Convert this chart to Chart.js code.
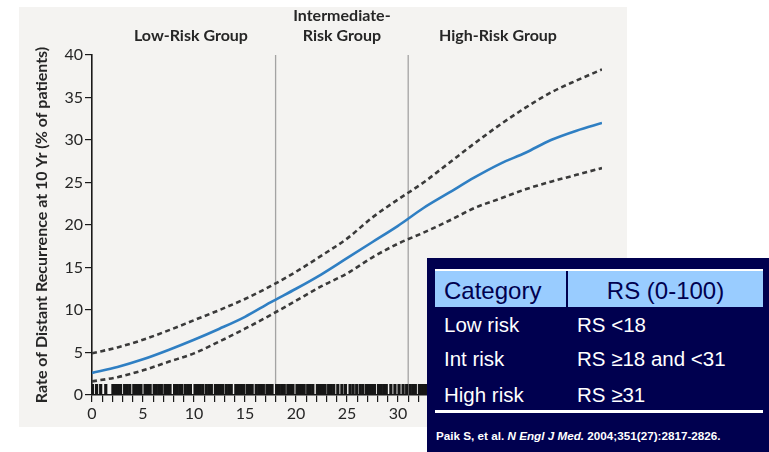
<!DOCTYPE html>
<html>
<head>
<meta charset="utf-8">
<title>Distant recurrence by Recurrence Score</title>
<script src="https://cdn.jsdelivr.net/npm/chart.js@4.4.1/dist/chart.umd.min.js"></script>
<style>
  html, body { margin: 0; padding: 0; background: #ffffff; }
  #wrap { position: relative; width: 769px; height: 452px; overflow: hidden; }
  #chart { position: absolute; left: 0; top: 0; }
  #rsTable {
    position: absolute; left: 427px; top: 258px; width: 342px; height: 194px;
    background: #00004f; color: #ffffff;
    font-family: "Liberation Sans", Arial, sans-serif;
  }
  #rsTable .hdr {
    position: absolute; left: 8px; top: 11px; width: 328px; height: 36px;
    background: #99ccff; border-top: 2px solid #ffffff;
  }
  #rsTable .sep { position: absolute; left: 131px; top: 0; width: 2px; height: 36px; background: #00004f; }
  #rsTable .t { position: absolute; line-height: 1; white-space: nowrap; }
  #rsTable .h { font-size: 24px; color: #00004f; top: 8px; }
  #rsTable .b { font-size: 20.5px; }
  #rsTable .rule { position: absolute; left: 8px; top: 152px; width: 328px; height: 3px; background: #ffffff; }
  #rsTable .cite { position: absolute; left: 9px; top: 172px; font-size: 11.7px; font-weight: bold; line-height: 1; white-space: nowrap; }
</style>
</head>
<body>
<div id="wrap">
  <canvas id="chart" width="769" height="452"></canvas>
  <div id="rsTable">
    <div class="hdr">
      <div class="t h" style="left:9px;">Category</div>
      <div class="sep"></div>
      <div class="t h" style="left:133px;width:195px;text-align:center;">RS (0-100)</div>
    </div>
    <div class="t b" style="left:17px;top:57px;">Low risk</div>
    <div class="t b" style="left:150px;top:57px;">RS &lt;18</div>
    <div class="t b" style="left:17px;top:91px;">Int risk</div>
    <div class="t b" style="left:150px;top:91px;">RS ≥18 and &lt;31</div>
    <div class="t b" style="left:17px;top:127px;">High risk</div>
    <div class="t b" style="left:150px;top:127px;">RS ≥31</div>
    <div class="rule"></div>
    <div class="cite">Paik S, et al. <i>N Engl J Med.</i> 2004;351(27):2817-2826.</div>
  </div>
</div>
<script>
// Recurrence Score (x) and 10-year distant recurrence rate, % (y)
const riskScore      = [0, 2.5, 5, 7.5, 10, 12.5, 15, 17.5, 20, 22.5, 25, 27.5, 30, 32.5, 35, 37.5, 40, 42.5, 45, 47.5, 50];
const recurrenceRate = [2.6, 3.3, 4.2, 5.3, 6.5, 7.8, 9.2, 10.9, 12.5, 14.2, 16.1, 18.0, 19.9, 22.0, 23.8, 25.6, 27.2, 28.5, 30.0, 31.1, 32.0];
const upperCI        = [4.9, 5.6, 6.5, 7.6, 8.8, 10.0, 11.3, 12.8, 14.5, 16.4, 18.4, 20.9, 23.0, 25.0, 27.3, 29.6, 31.8, 33.8, 35.6, 37.0, 38.3];
const lowerCI        = [1.6, 2.1, 2.9, 3.9, 4.9, 6.3, 7.8, 9.4, 11.1, 12.8, 14.3, 16.2, 17.8, 19.1, 20.5, 22.0, 23.1, 24.2, 25.1, 25.9, 26.7];

// Risk-group cut points on the Recurrence Score
const cutoffs = [18, 31];

// Individual patients' scores, shown as a rug along the x axis
const rugScores = [
  0.05, 0.45, 0.85, 1.35,
  2.05, 2.3, 2.55, 2.8, 3.2, 3.45, 3.7, 4.1, 4.35, 4.6, 4.8,
  5.2, 5.45, 5.7, 6.1, 6.3, 6.55, 6.8, 7.15, 7.4, 7.65, 8.1, 8.35, 8.6, 8.8,
  9.15, 9.4, 9.65, 10.1, 10.35, 10.6, 10.85, 11.2, 11.45, 11.7, 12.1, 12.35, 12.6, 12.8,
  13.15, 13.4, 13.65, 14.1, 14.35, 14.6, 14.85, 15.2, 15.45, 15.7, 16.1, 16.35, 16.6, 16.8,
  17.15, 17.4, 17.65, 18.1, 18.35, 18.6, 18.85, 19.2, 19.45, 19.7, 20.1, 20.35, 20.6, 20.8,
  21.15, 21.4, 21.65, 22.1, 22.35, 22.6, 22.85, 23.2, 23.45, 23.7,
  24.1, 24.5, 24.85, 25.3, 25.6, 25.95, 26.3, 26.55, 26.9, 27.2, 27.45, 27.7,
  28.1, 28.35, 28.6, 28.85, 29.3, 29.7, 30.1, 30.5, 30.85, 31.2, 31.45, 31.7,
  32.1, 32.35, 32.6, 32.85, 33.2, 33.45, 33.7,
  34.2, 34.5, 35.1, 35.4, 36.2, 36.5, 37.1, 37.6, 38.2, 38.9, 39.5, 40.3,
  41.2, 42.0, 43.1, 44.3, 45.6, 47.0, 48.4, 49.6
];

// Axis ranges and group headings
const xRange = [0, 50];
const yRange = [0, 40];
const xLabelStep = 5;
const yTickStep = 5;
const groupHeadings = [
  { lines: ['Low-Risk Group'], at: 9.7 },
  { lines: ['Intermediate-', 'Risk Group'], at: 24.5 },
  { lines: ['High-Risk Group'], at: 39.8 }
];
const yTitle = 'Rate of Distant Recurrence at 10 Yr (% of patients)';

const toPoints = (xs, ys) => xs.map((x, i) => ({ x: x, y: ys[i] }));

const textColor = '#262626';
const axisColor = '#1a1a1a';
const fontFamily = 'Lato, "Open Sans", sans-serif';

// Light panel behind the figure
const panelPlugin = {
  id: 'panel',
  beforeDraw(chart) {
    const ctx = chart.ctx;
    ctx.save();
    ctx.fillStyle = '#ffffff';
    ctx.fillRect(0, 0, chart.width, chart.height);
    ctx.fillStyle = '#f4f3f1';
    ctx.fillRect(19, 7, 608, 420);
    ctx.restore();
  }
};

// Group headings above the plot, placed over each score band
const headingPlugin = {
  id: 'groupHeadings',
  afterDraw(chart) {
    const ctx = chart.ctx;
    const xs = chart.scales.x;
    ctx.save();
    ctx.font = 'bold 16px ' + fontFamily;
    ctx.fillStyle = textColor;
    ctx.textAlign = 'center';
    ctx.textBaseline = 'alphabetic';
    groupHeadings.forEach(g => {
      const cx = xs.getPixelForValue(g.at);
      const n = g.lines.length;
      g.lines.forEach((line, i) => {
        ctx.fillText(line, cx, 41 - (n - 1 - i) * 20);
      });
    });
    ctx.restore();
  }
};

const datasets = [
  {
    label: 'Rate of distant recurrence',
    data: toPoints(riskScore, recurrenceRate),
    showLine: true,
    borderColor: '#2f7fc3',
    borderWidth: 2.6,
    pointRadius: 0,
    cubicInterpolationMode: 'monotone'
  },
  {
    label: '95% CI upper',
    data: toPoints(riskScore, upperCI),
    showLine: true,
    borderColor: '#3a3a3a',
    borderWidth: 2.6,
    borderDash: [5, 3.5],
    pointRadius: 0,
    cubicInterpolationMode: 'monotone'
  },
  {
    label: '95% CI lower',
    data: toPoints(riskScore, lowerCI),
    showLine: true,
    borderColor: '#3a3a3a',
    borderWidth: 2.6,
    borderDash: [5, 3.5],
    pointRadius: 0,
    cubicInterpolationMode: 'monotone'
  },
  {
    label: 'Patients',
    data: rugScores.map(s => ({ x: s, y: 0.65 })),
    showLine: false,
    pointStyle: 'line',
    pointRotation: 90,
    pointRadius: 5.5,
    pointBorderWidth: 3.2,
    pointBorderColor: '#161616',
    pointBackgroundColor: '#161616'
  }
].concat(cutoffs.map(c => ({
  label: 'Cut point ' + c,
  data: [{ x: c, y: yRange[0] }, { x: c, y: yRange[1] }],
  showLine: true,
  borderColor: '#a3a3a3',
  borderWidth: 1.3,
  pointRadius: 0
})));

new Chart(document.getElementById('chart'), {
  type: 'scatter',
  data: { datasets: datasets },
  options: {
    responsive: false,
    animation: false,
    events: [],
    layout: { padding: { left: 20, right: 167, top: 55, bottom: 27 } },
    plugins: { legend: { display: false }, tooltip: { enabled: false } },
    scales: {
      x: {
        type: 'linear',
        min: xRange[0],
        max: xRange[1],
        afterFit(scale) { scale.height = 30; },
        grid: { display: true, drawOnChartArea: false, drawTicks: true, tickLength: 7, color: axisColor, lineWidth: 1.2 },
        border: { display: true, color: axisColor, width: 1.6 },
        ticks: {
          stepSize: 1,
          autoSkip: false,
          maxRotation: 0,
          padding: 2,
          color: textColor,
          font: { family: fontFamily, size: 16 },
          callback: v => (v % xLabelStep === 0 ? String(v) : '')
        }
      },
      y: {
        type: 'linear',
        min: yRange[0],
        max: yRange[1],
        afterFit(scale) { scale.width = 72; },
        grid: { display: true, drawOnChartArea: false, drawTicks: true, tickLength: 7, color: axisColor, lineWidth: 1.2 },
        border: { display: true, color: axisColor, width: 1.6 },
        ticks: {
          stepSize: yTickStep,
          padding: 2,
          color: textColor,
          font: { family: fontFamily, size: 16 }
        },
        title: {
          display: true,
          text: yTitle,
          color: textColor,
          font: { family: fontFamily, size: 16, weight: 'bold' },
          padding: { top: 12, bottom: 0 }
        }
      }
    }
  },
  plugins: [panelPlugin, headingPlugin]
});
</script>
</body>
</html>
